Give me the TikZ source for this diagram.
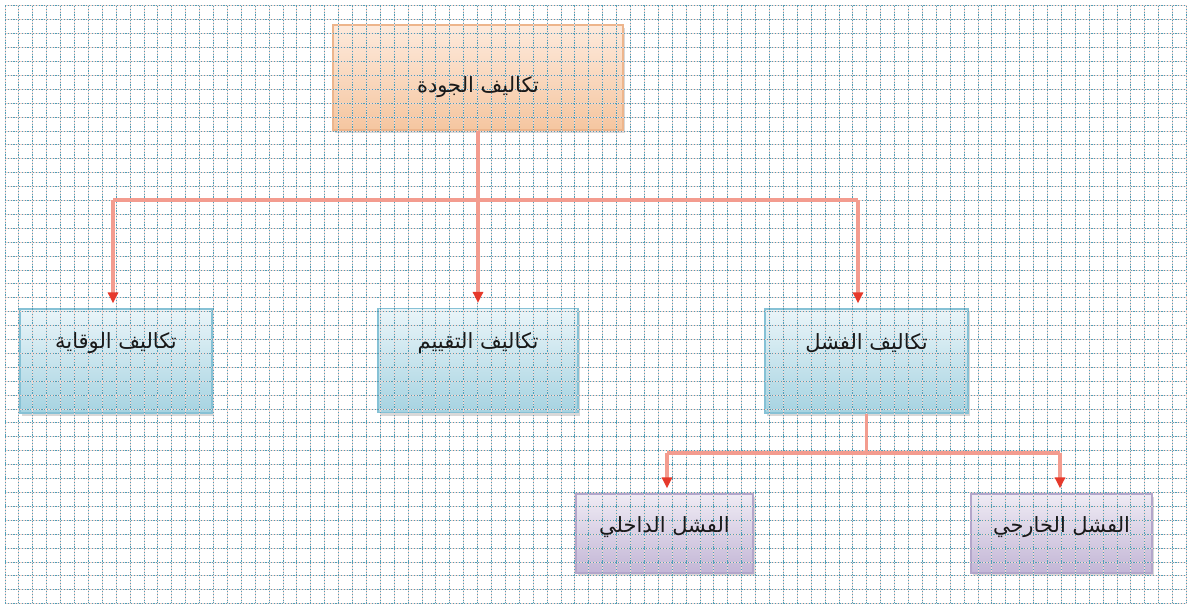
\documentclass[tikz,border=0pt]{standalone}
\usepackage{fontspec}
\newfontfamily\arabicfont[Script=Arabic]{DejaVu Sans}
\TeXXeTstate=1
\usetikzlibrary{arrows.meta,shadows}

\definecolor{gridblue}{HTML}{4F9FB8}
\definecolor{gridpink}{HTML}{F4D6D0}
\definecolor{roottop}{HTML}{FDEADC}
\definecolor{rootbot}{HTML}{F5C6A0}
\definecolor{rootedge}{HTML}{EDB58C}
\definecolor{costtop}{HTML}{EAF5F9}
\definecolor{costbot}{HTML}{A6D3E1}
\definecolor{costedge}{HTML}{86C1D5}
\definecolor{failtop}{HTML}{EFEBF4}
\definecolor{failbot}{HTML}{C3B6D6}
\definecolor{failedge}{HTML}{B3A6CA}
\definecolor{linkred}{HTML}{F39C8F}
\definecolor{tipred}{HTML}{E6392B}

\tikzset{
	panel/.style={draw, line width=0.6pt, drop shadow={shadow xshift=1pt, shadow yshift=-1.5pt, opacity=0.3}},
	rootbox/.style={panel, draw=rootedge, top color=roottop, bottom color=rootbot, minimum width=145pt, minimum height=52.5pt},
	costbox/.style={panel, draw=costedge, top color=costtop, bottom color=costbot, minimum height=52pt},
	failbox/.style={panel, draw=failedge, top color=failtop, bottom color=failbot, minimum height=39.5pt},
	gridline/.style={draw=gridpink, line width=0.5pt, postaction={draw=gridblue, line width=0.5pt, dash pattern=on 0.6pt off 0.8pt}},
	link/.style={draw=linkred, line width=1.7pt},
	tip/.style={link, -{Triangle[color=tipred, width=5pt, length=5.5pt]}, shorten >=2.5pt},
	caption/.style={font=\arabicfont\fontsize{10.5}{13}\selectfont, text=black!90}
}

\begin{document}
\begin{tikzpicture}[x=0.5pt,y=-0.5pt]
	\useasboundingbox (0,0) rectangle (1191,610);
	\fill[white] (0,0) rectangle (1191,610);

	\node[rootbox] (root) at (478,77.5) {};
	\node[costbox, minimum width=96pt] (prev) at (116,361) {};
	\node[costbox, minimum width=100pt] (eval) at (478,360.5) {};
	\node[costbox, minimum width=101.5pt] (fail) at (866.5,361) {};
	\node[failbox, minimum width=88.5pt] (inner) at (664.5,533.5) {};
	\node[failbox, minimum width=90.5pt] (outer) at (1061.5,533.5) {};

	% squared paper over everything
	\foreach \i in {0,...,85}
		\draw[gridline] (5+13.9*\i,6) -- (5+13.9*\i,603.7);
	\foreach \j in {0,...,43}
		\draw[gridline] (5,6+13.9*\j) -- (1186.5,6+13.9*\j);

	\coordinate (busL) at (113,200);
	\coordinate (busR) at (858,200);
	\coordinate (forkL) at (667,453);
	\coordinate (forkR) at (1060,453);

	\draw[link] (busL) -- (busR);
	\draw[tip] (root.south) -- (eval.north);
	\draw[tip] (busL) -- (busL |- prev.north);
	\draw[tip] (busR) -- (busR |- fail.north);
	\draw[link] (fail.south) -- (fail.south |- forkL);
	\draw[link] (forkL) -- (forkR);
	\draw[tip] (forkL) -- (forkL |- inner.north);
	\draw[tip] (forkR) -- (forkR |- outer.north);

	\node[caption] (rootlbl) at (478,87) {\beginR تكاليف الجودة\endR};
	\node[caption] (prevlbl) at (116,343) {\beginR تكاليف الوقاية\endR};
	\node[caption] (evallbl) at (478,343) {\beginR تكاليف التقييم\endR};
	\node[caption] (faillbl) at (866.5,343) {\beginR تكاليف الفشل\endR};
	\node[caption] (innerlbl) at (664.5,527) {\beginR الفشل الداخلي\endR};
	\node[caption] (outerlbl) at (1061.5,527) {\beginR الفشل الخارجي\endR};
\end{tikzpicture}
\end{document}
